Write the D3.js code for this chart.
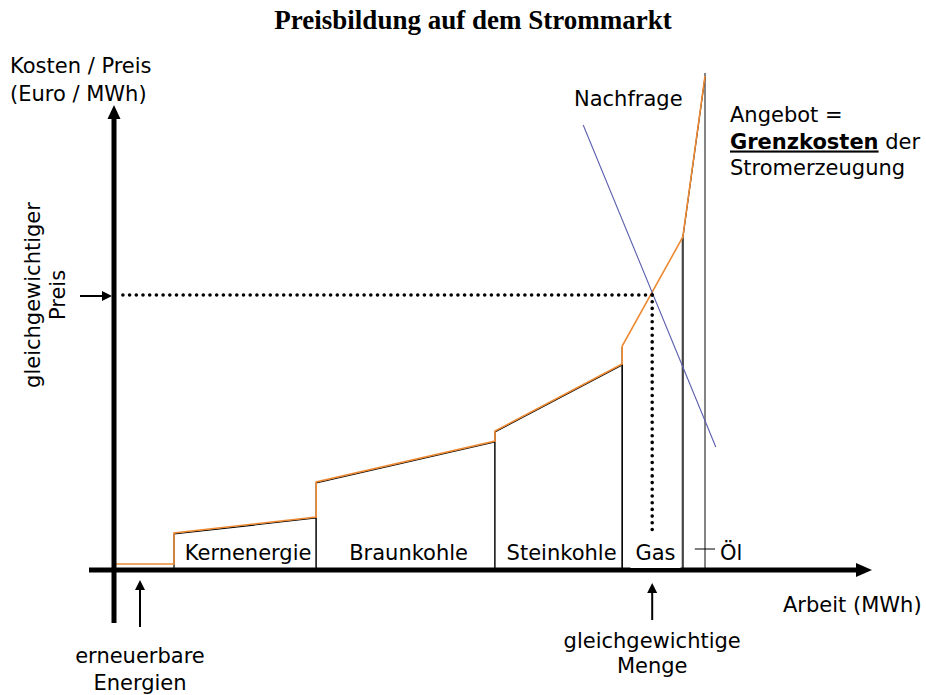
<!DOCTYPE html>
<html>
<head>
<meta charset="utf-8">
<script src="https://cdn.jsdelivr.net/npm/d3@7"></script>
<style>
  html, body { margin: 0; padding: 0; background: #fff; }
  svg { display: block; }
  text { font-family: "DejaVu Sans", Verdana, sans-serif; fill: #000; }
</style>
</head>
<body>
<svg id="chart" width="926" height="695"></svg>
<script>
// Merit order: supply blocks by technology (capacity in arbitrary MWh units, cost in arbitrary €/MWh units)
const categories   = ["erneuerbare Energien", "Kernenergie", "Braunkohle", "Steinkohle", "Gas", "Öl"];
const capacityFrom = [0, 10, 33.7, 63.5, 84.7, 94.8];
const capacityTo   = [10, 33.7, 63.5, 84.7, 94.8, 98.5];
const costFrom     = [1, 7.2, 17.4, 27.6, 44.6, 66.4];
const costTo       = [1, 10.4, 25.6, 41, 66.4, 98.6];

// Demand curve (two end points) and market equilibrium
const demandQty    = [78.2, 100.3];
const demandPrice  = [89, 24.6];
const eqQuantity   = 89.7;
const eqPrice      = 55;

const svg = d3.select("#chart");
const x = d3.scaleLinear().domain([0, 126]).range([114, 870]);
const y = d3.scaleLinear().domain([0, 100]).range([570, 70]);

const ORANGE = "#ee8a33";
const FS = 21;

// Title
svg.append("text")
  .attr("x", 473).attr("y", 29)
  .attr("text-anchor", "middle")
  .style("font-family", "'Liberation Serif', 'Times New Roman', serif")
  .style("font-weight", "bold").style("font-size", "27px")
  .text("Preisbildung auf dem Strommarkt");

// Block outlines (black)
const blocks = categories.map((c, i) => ({
  name: c, x0: capacityFrom[i], x1: capacityTo[i], c0: costFrom[i], c1: costTo[i], i
}));

svg.append("g").selectAll("path.block")
  .data(blocks.filter(b => b.i > 0 && b.i < 4))
  .join("path")
  .attr("class", "block")
  .attr("d", b => `M${x(b.x0)},${y(0)}V${y(b.c0)}L${x(b.x1)},${y(b.c1)}V${y(0)}`)
  .attr("fill", "#fff").attr("stroke", "#000").attr("stroke-width", 1.2);

// Gas and oil blocks: thin left edge, grey right edges
const gas = blocks[4], oil = blocks[5];
svg.append("line")
  .attr("x1", x(gas.x0)).attr("x2", x(gas.x0)).attr("y1", y(0)).attr("y2", y(gas.c0))
  .attr("stroke", "#000").attr("stroke-width", 1.2);
svg.append("line")
  .attr("x1", x(gas.x1)).attr("x2", x(gas.x1)).attr("y1", y(0)).attr("y2", y(gas.c1))
  .attr("stroke", "#444").attr("stroke-width", 2.2);
svg.append("line")
  .attr("x1", x(oil.x1)).attr("x2", x(oil.x1)).attr("y1", y(0)).attr("y2", y(oil.c1) - 4)
  .attr("stroke", "#666").attr("stroke-width", 1.6);
svg.append("line")
  .attr("x1", x(oil.x0)).attr("x2", x(oil.x1)).attr("y1", y(oil.c0)).attr("y2", y(oil.c1))
  .attr("stroke", "#000").attr("stroke-width", 1.2);

// Supply curve (marginal cost), orange
const supplyPts = [];
blocks.forEach(b => { supplyPts.push([b.x0, b.c0]); supplyPts.push([b.x1, b.c1]); });
svg.append("path")
  .datum(supplyPts)
  .attr("d", d3.line().x(d => x(d[0])).y(d => y(d[1])))
  .attr("transform", "translate(0,-1)")
  .attr("fill", "none").attr("stroke", ORANGE).attr("stroke-width", 1.6)
  .attr("stroke-linejoin", "miter");

// Demand curve
svg.append("line")
  .attr("x1", x(demandQty[0])).attr("y1", y(demandPrice[0]))
  .attr("x2", x(demandQty[1])).attr("y2", y(demandPrice[1]))
  .attr("stroke", "#5a5eab").attr("stroke-width", 1.1);

// Equilibrium dotted guides
const dotted = g => g.attr("stroke", "#000").attr("stroke-width", 3.6)
  .attr("stroke-linecap", "round").attr("stroke-dasharray", "0,6.7").attr("fill", "none");
svg.append("line")
  .attr("x1", x(eqQuantity)).attr("x2", x(0) + 6).attr("y1", y(eqPrice)).attr("y2", y(eqPrice))
  .call(dotted);
svg.append("line")
  .attr("x1", x(eqQuantity)).attr("x2", x(eqQuantity)).attr("y1", y(eqPrice)).attr("y2", y(0) - 10)
  .call(dotted);

// Axes
svg.append("line")
  .attr("x1", 89).attr("x2", x(126) - 12).attr("y1", y(0)).attr("y2", y(0))
  .attr("stroke", "#000").attr("stroke-width", 5);
svg.append("path")
  .attr("d", `M${x(126) + 2},${y(0)}L${x(126) - 14},${y(0) - 7}L${x(126) - 14},${y(0) + 7}Z`)
  .attr("fill", "#000");
svg.append("line")
  .attr("x1", x(0)).attr("x2", x(0)).attr("y1", 623).attr("y2", y(92.6) + 10)
  .attr("stroke", "#000").attr("stroke-width", 5);
svg.append("path")
  .attr("d", `M${x(0)},${y(92.6) - 2}L${x(0) - 6.5},${y(92.6) + 12}L${x(0) + 6.5},${y(92.6) + 12}Z`)
  .attr("fill", "#000");

// Block labels; the gas label sits on a white box that masks the guide and axis edge
const labelY = 560;
const gasCx = (x(gas.x0) + x(gas.x1)) / 2 + 3;
svg.append("rect")
  .attr("x", gasCx - 25).attr("y", 532).attr("width", 50).attr("height", 36)
  .attr("fill", "#fff");
svg.append("g").selectAll("text.blk")
  .data(blocks.filter(b => b.i > 0 && b.i < 5))
  .join("text")
  .attr("class", "blk")
  .attr("x", b => (x(b.x0) + x(b.x1)) / 2 + 3)
  .attr("y", labelY)
  .attr("text-anchor", "middle").style("font-size", FS + "px")
  .text(b => b.name);

// Oil label with leader
svg.append("line")
  .attr("x1", x(oil.x0) + 12).attr("x2", x(oil.x1) + 10).attr("y1", 549).attr("y2", 549)
  .attr("stroke", "#000").attr("stroke-width", 1);
svg.append("text").attr("x", x(oil.x1) + 15).attr("y", labelY)
  .style("font-size", FS + "px").text(oil.name);

// Small annotation arrows
function arrow(x1, y1, x2, y2) {
  const ang = Math.atan2(y2 - y1, x2 - x1);
  const L = 10, W = 5;
  const bx = x2 - L * Math.cos(ang), by = y2 - L * Math.sin(ang);
  svg.append("line").attr("x1", x1).attr("y1", y1).attr("x2", bx).attr("y2", by)
    .attr("stroke", "#000").attr("stroke-width", 2);
  svg.append("path")
    .attr("d", `M${x2},${y2}L${bx - W * Math.sin(ang)},${by + W * Math.cos(ang)}L${bx + W * Math.sin(ang)},${by - W * Math.cos(ang)}Z`)
    .attr("fill", "#000");
}
arrow(80, y(eqPrice) + 1, x(0) - 2, y(eqPrice) + 1);
const renewMid = (x(capacityFrom[0]) + x(capacityTo[0])) / 2 - 4;
arrow(renewMid, 627, renewMid, 580);
arrow(x(eqQuantity), 620, x(eqQuantity), 583);

// Axis titles and annotations
const multi = (lines, xx, yy, anchor, dy) => {
  const t = svg.append("text").attr("x", xx).attr("y", yy)
    .attr("text-anchor", anchor).style("font-size", FS + "px");
  lines.forEach((l, i) => t.append("tspan").attr("x", xx).attr("dy", i ? dy : 0).text(l));
  return t;
};
multi(["Kosten / Preis", "(Euro / MWh)"], 10, 73, "start", 27.5);
svg.append("text").attr("x", 783).attr("y", 612).style("font-size", FS + "px").text("Arbeit (MWh)");
multi(["erneuerbare", "Energien"], renewMid, 663, "middle", 27);
multi(["gleichgewichtige", "Menge"], x(eqQuantity), 648, "middle", 25);
svg.append("text").attr("x", 574).attr("y", 106).style("font-size", FS + "px").text("Nachfrage");

// Rotated price label
const rot = svg.append("text")
  .attr("transform", `translate(40,${y(eqPrice)}) rotate(-90)`)
  .attr("text-anchor", "middle").style("font-size", FS + "px");
rot.append("tspan").attr("x", 0).attr("y", 0).text("gleichgewichtiger");
rot.append("tspan").attr("x", 0).attr("y", 25).text("Preis");

// Supply annotation
const sup = svg.append("text").attr("x", 730).attr("y", 122).style("font-size", FS + "px");
sup.append("tspan").attr("x", 730).text("Angebot =");
sup.append("tspan").attr("x", 730).attr("dy", 26.5)
  .style("font-weight", "bold").style("text-decoration", "underline").text("Grenzkosten");
sup.append("tspan").text(" der");
sup.append("tspan").attr("x", 730).attr("dy", 26.5).text("Stromerzeugung");
</script>
</body>
</html>
